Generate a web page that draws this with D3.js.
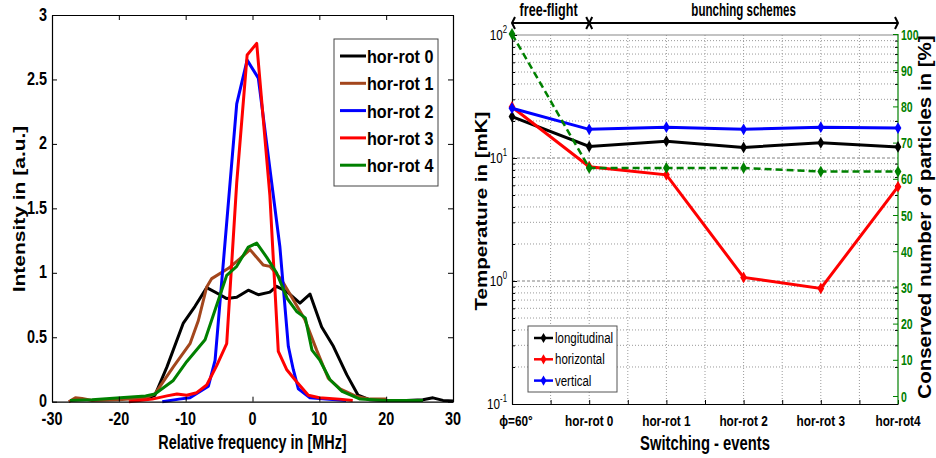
<!DOCTYPE html>
<html>
<head>
<meta charset="utf-8">
<script src="https://cdn.jsdelivr.net/npm/d3@7/dist/d3.min.js"></script>
<style>
  body { margin: 0; background: #fff; }
  svg { display: block; }
  text { font-family: 'Liberation Sans', Arial, sans-serif; }
</style>
</head>
<body>
<svg id="fig" width="936" height="458"></svg>
<script>
// ---------- Spectra (left panel): relative frequency [MHz] vs intensity [a.u.] ----------
const spectrumNames  = ["hor-rot 0", "hor-rot 1", "hor-rot 2", "hor-rot 3", "hor-rot 4"];
const spectrumColors = ["#000000", "#a3461c", "#0000ff", "#ff0000", "#008000"];

const freqRot0 = [-18, -16, -14.6, -12.8, -10.35, -8.6, -6.85, -4.86, -3.86, -2.36, -0.63, 0.87, 2.6, 3.6, 5.1, 7.1, 8.6, 10.35, 12.1, 14.1, 15.8, 17.5, 20, 23, 25.5, 27, 28.5, 30];
const intRot0  = [0.01, 0.02, 0.05, 0.27, 0.61, 0.74, 0.885, 0.83, 0.80, 0.81, 0.865, 0.83, 0.85, 0.895, 0.855, 0.765, 0.835, 0.58, 0.43, 0.21, 0.05, 0.015, 0.01, 0.01, 0.015, 0.03, 0.01, 0.005];

const freqRot1 = [-27.5, -26.5, -25.5, -24, -20, -16, -14.6, -11.85, -9.35, -8.1, -6.85, -6.1, -3.6, -1.87, -0.37, 1.6, 2.6, 4.36, 6.1, 7.85, 9.6, 11.35, 13.1, 15.6, 17.5, 20];
const intRot1  = [0.0, 0.03, 0.025, 0.01, 0.015, 0.03, 0.06, 0.27, 0.45, 0.63, 0.89, 0.955, 1.035, 1.11, 1.18, 1.06, 1.05, 0.945, 0.79, 0.635, 0.40, 0.18, 0.10, 0.04, 0.02, 0.02];

const freqRot2 = [-13.5, -11, -9.35, -6.6, -5.6, -2.36, -0.8, 0.87, 4.1, 5.36, 6.1, 6.86, 8.6, 11, 14];
const intRot2  = [0.0, 0.02, 0.03, 0.12, 0.32, 2.31, 2.65, 2.51, 1.20, 0.43, 0.25, 0.10, 0.03, 0.02, 0.01];

const freqRot3 = [-18.5, -15, -12.8, -11.3, -9.85, -8.35, -6.85, -5.36, -3.86, -2.36, -0.8, 0.63, 2.6, 3.86, 5.1, 6.6, 8.35, 10, 13, 15];
const intRot3  = [0.0, 0.02, 0.045, 0.06, 0.05, 0.07, 0.13, 0.28, 0.45, 1.7, 2.69, 2.78, 1.6, 0.39, 0.25, 0.155, 0.05, 0.03, 0.02, 0.01];

const freqRot4 = [-27.3, -24, -19.8, -16, -14.6, -11.85, -9.85, -7.1, -4.9, -3.86, -2.36, -0.63, 0.63, 2.13, 3.6, 5.2, 6.6, 7.9, 8.9, 10.1, 11.6, 13.4, 16.1, 20, 25.5];
const intRot4  = [0.01, 0.015, 0.03, 0.045, 0.06, 0.165, 0.31, 0.48, 0.82, 0.98, 1.05, 1.20, 1.23, 1.12, 1.0, 0.8, 0.7, 0.65, 0.40, 0.32, 0.17, 0.08, 0.02, 0.01, 0.01];

const freqTicks = [-30, -20, -10, 0, 10, 20, 30];
const intensityTicks = [0, 0.5, 1, 1.5, 2, 2.5, 3];

// ---------- Temperatures (right panel) ----------
const events = ["\u03D5=60\u00B0", "hor-rot 0", "hor-rot 1", "hor-rot 2", "hor-rot 3", "hor-rot4"];
const tempLongitudinal = [21.7, 12.4, 13.7, 12.2, 13.3, 12.3];
const tempHorizontal   = [26, 8.5, 7.3, 1.07, 0.87, 5.85];
const tempVertical     = [25.4, 17.1, 17.8, 17.1, 17.8, 17.5];
const conservedPct     = [100, 63, 63, 63, 62, 62];
const tempNames  = ["longitudinal", "horizontal", "vertical"];
const tempColors = ["#000000", "#ff0000", "#0000ff"];
const pctColor = "#008000";
const tempDecades = [0.1, 1, 10, 100];
const pctTicks = [0, 10, 20, 30, 40, 50, 60, 70, 80, 90, 100];
const phaseLabels = ["free-flight", "bunching schemes"];

const svg = d3.select("#fig");

// Condensed text: Liberation Sans squeezed horizontally around its anchor point.
function ntext(parent, x, y, str, o) {
  o = Object.assign({ size: 16, weight: "bold", anchor: "start", sx: 0.8, sy: 1, rot: 0, fill: "#000" }, o || {});
  const g = parent.append("g")
    .attr("transform", `translate(${x},${y})` + (o.rot ? ` rotate(${o.rot})` : "") + ` scale(${o.sx},${o.sy})`);
  return g.append("text").attr("text-anchor", o.anchor).attr("font-size", o.size)
    .attr("font-weight", o.weight).attr("fill", o.fill).text(str);
}

// ======================= Left panel =======================
const L = { x0: 52, x1: 453, y0: 401.7, y1: 15 };
const xL = d3.scaleLinear().domain([-30, 30]).range([L.x0, L.x1]);
const yL = d3.scaleLinear().domain([0, 3]).range([L.y0, L.y1]);

const left = svg.append("g");
const spectra = [
  [freqRot0, intRot0], [freqRot1, intRot1], [freqRot2, intRot2],
  [freqRot3, intRot3], [freqRot4, intRot4]
];
const lineL = d3.line().x(d => xL(d[0])).y(d => yL(d[1]));
spectra.forEach(([fx, iy], k) => {
  left.append("path")
    .datum(fx.map((f, i) => [f, iy[i]]))
    .attr("d", lineL)
    .attr("fill", "none")
    .attr("stroke", spectrumColors[k])
    .attr("stroke-width", 3)
    .attr("stroke-linejoin", "round");
});

function inkAxis(g, color) {
  g.selectAll("line").attr("stroke", color || "#000");
  g.select(".domain").attr("stroke", color || "#000").attr("stroke-width", 1.2);
}

left.append("g").attr("transform", `translate(0,${L.y0})`)
  .call(d3.axisBottom(xL).tickValues(freqTicks).tickSize(-5).tickSizeOuter(0).tickFormat(""))
  .call(g => inkAxis(g));
left.append("g").attr("transform", `translate(0,${L.y1})`)
  .call(d3.axisTop(xL).tickValues(freqTicks).tickSize(-5).tickSizeOuter(0).tickFormat(""))
  .call(g => inkAxis(g));
left.append("g").attr("transform", `translate(${L.x0},0)`)
  .call(d3.axisLeft(yL).tickValues(intensityTicks).tickSize(-5).tickSizeOuter(0).tickFormat(""))
  .call(g => inkAxis(g));
left.append("g").attr("transform", `translate(${L.x1},0)`)
  .call(d3.axisRight(yL).tickValues(intensityTicks).tickSize(-5).tickSizeOuter(0).tickFormat(""))
  .call(g => inkAxis(g));

freqTicks.forEach(v => ntext(left, xL(v), 425, String(v), { size: 18, anchor: "middle", sx: 0.8 }));
intensityTicks.forEach(v => ntext(left, 47, yL(v) + 5.5, String(v), { size: 18, anchor: "end", sx: 0.8 }));

ntext(left, (L.x0 + L.x1) / 2, 449, "Relative frequency in [MHz]", { size: 19.5, anchor: "middle", sx: 0.74 });
ntext(left, 25, 209, "Intensity in [a.u.]", { size: 21, anchor: "middle", rot: -90, sx: 1, sy: 0.8 });

// legend
const legL = left.append("g");
legL.append("rect").attr("x", 334).attr("y", 39).attr("width", 104).attr("height", 147)
  .attr("fill", "#fff").attr("stroke", "#444").attr("stroke-width", 1);
spectrumNames.forEach((name, k) => {
  const y = 56 + k * 27.3;
  legL.append("line").attr("x1", 340).attr("x2", 366).attr("y1", y).attr("y2", y)
    .attr("stroke", spectrumColors[k]).attr("stroke-width", 3);
  ntext(legL, 367, y + 7, name, { size: 19, sx: 0.85 });
});

// ======================= Right panel =======================
const R = { x0: 512, x1: 898, y0: 404, y1: 35 };
const xR = d3.scaleLinear().domain([0, events.length - 1]).range([R.x0, R.x1]);
const yT = d3.scaleLog().domain([0.1, 100]).range([R.y0, R.y1]);
const yP = d3.scaleLinear().domain([0, 100]).range([396, 34]);

const right = svg.append("g");

// grid
const minorVals = [];
[0.1, 1, 10].forEach(d => { for (let m = 2; m <= 9; m++) minorVals.push(d * m); });
right.selectAll(".hgrid").data(minorVals).enter().append("line")
  .attr("x1", R.x0).attr("x2", R.x1).attr("y1", d => yT(d)).attr("y2", d => yT(d))
  .attr("stroke", "#9a9a9a").attr("stroke-width", 1).attr("stroke-dasharray", "1,2");
right.selectAll(".hmajor").data([1, 10]).enter().append("line")
  .attr("x1", R.x0).attr("x2", R.x1).attr("y1", d => yT(d)).attr("y2", d => yT(d))
  .attr("stroke", "#808080").attr("stroke-width", 1).attr("stroke-dasharray", "3,2");
const halfSteps = d3.range(0.5, events.length - 1, 0.5);
right.selectAll(".vgrid").data(halfSteps).enter().append("line")
  .attr("x1", d => xR(d)).attr("x2", d => xR(d)).attr("y1", R.y1).attr("y2", R.y0)
  .attr("stroke", "#9a9a9a").attr("stroke-width", 1).attr("stroke-dasharray", "1,2");

// top edge
right.append("line").attr("x1", R.x0).attr("x2", R.x1).attr("y1", R.y1).attr("y2", R.y1)
  .attr("stroke", "#888").attr("stroke-width", 1.2);

// log axis (left)
right.append("g").attr("transform", `translate(${R.x0},0)`)
  .call(d3.axisLeft(yT).tickValues(tempDecades).tickSize(-5).tickSizeOuter(0).tickFormat(""))
  .call(g => inkAxis(g));
right.append("g").attr("transform", `translate(${R.x0},0)`)
  .call(d3.axisLeft(yT).tickValues(minorVals).tickSize(-3).tickSizeOuter(0).tickFormat(""))
  .call(g => g.select(".domain").remove());
right.append("g").attr("transform", `translate(${R.x1},0)`)
  .call(d3.axisRight(yT).tickValues(minorVals).tickSize(-3).tickSizeOuter(0).tickFormat(""))
  .call(g => g.select(".domain").remove());
tempDecades.forEach(d => {
  const g = right.append("g").attr("transform", `translate(507,${yT(d) + 5}) scale(0.78,1)`);
  const t = g.append("text").attr("text-anchor", "end").attr("font-size", 15);
  t.append("tspan").text("10");
  t.append("tspan").attr("dy", -7).attr("font-size", 10).text(String(Math.round(Math.log10(d))));
});

// bottom axis
right.append("g").attr("transform", `translate(0,${R.y0})`)
  .call(d3.axisBottom(xR).tickValues(d3.range(0, events.length - 0.5, 0.5)).tickSize(-4).tickSizeOuter(0).tickFormat(""))
  .call(g => inkAxis(g));
events.forEach((d, i) => ntext(right, xR(i) + (i === 0 ? 4 : 0), 426, d, { size: 15.5, anchor: "middle", sx: 0.76 }));

// percentage axis (right, green)
right.append("g").attr("transform", `translate(${R.x1},0)`)
  .call(d3.axisRight(yP).tickValues(pctTicks).tickSize(-5).tickSizeOuter(0).tickFormat(""))
  .call(g => inkAxis(g, pctColor))
  .call(g => g.select(".domain").attr("d", `M0,${R.y1 - 1}V${R.y0}`));
pctTicks.forEach(v => ntext(right, 901, yP(v) + 5.5, String(v), { size: 15, sx: 0.7, fill: pctColor }));

// temperature series
const lineR = d3.line().x((d, i) => xR(i)).y(d => yT(d));
[tempLongitudinal, tempHorizontal, tempVertical].forEach((vals, k) => {
  right.append("path").datum(vals).attr("d", lineR).attr("fill", "none")
    .attr("stroke", tempColors[k]).attr("stroke-width", 3);
  right.selectAll(null).data(vals).enter().append("path")
    .attr("transform", (d, i) => `translate(${xR(i)},${yT(d)})`)
    .attr("d", d3.symbol(d3.symbolDiamond, 40)).attr("fill", tempColors[k]);
});

// conserved particles (dashed)
right.append("path").datum(conservedPct)
  .attr("d", d3.line().x((d, i) => xR(i)).y(d => yP(d)))
  .attr("fill", "none").attr("stroke", pctColor).attr("stroke-width", 2.5).attr("stroke-dasharray", "7,4");
right.selectAll(null).data(conservedPct).enter().append("path")
  .attr("transform", (d, i) => `translate(${xR(i)},${yP(d)})`)
  .attr("d", d3.symbol(d3.symbolDiamond, 40)).attr("fill", pctColor);

// axis titles
ntext(right, 487, 211, "Temperature in [mK]", { size: 20.5, anchor: "middle", rot: -90, sx: 1, sy: 0.8 });
ntext(right, 931, 217, "Conserved number of particles in [%]", { size: 20.5, anchor: "middle", rot: -90, sx: 1, sy: 0.9 });
ntext(right, 705, 450, "Switching - events", { size: 20, anchor: "middle", sx: 0.74 });

// phase annotation above the panel
const yArrow = 23;
const split = xR(1);
const ann = right.append("g").attr("stroke", "#000").attr("stroke-width", 2).attr("fill", "none");
ann.append("line").attr("x1", R.x0).attr("x2", R.x1).attr("y1", yArrow).attr("y2", yArrow);
ann.append("polyline").attr("points", `${R.x0 + 3},${yArrow - 6} ${R.x0},${yArrow} ${R.x0 + 3},${yArrow + 6}`);
ann.append("polyline").attr("points", `${R.x1 - 3},${yArrow - 6} ${R.x1},${yArrow} ${R.x1 - 3},${yArrow + 6}`);
ann.append("polyline").attr("points", `${split - 3},${yArrow - 6} ${split},${yArrow} ${split - 3},${yArrow + 6}`);
ann.append("polyline").attr("points", `${split + 3},${yArrow - 6} ${split},${yArrow} ${split + 3},${yArrow + 6}`);
ntext(right, (R.x0 + split) / 2 - 2, 16, phaseLabels[0], { size: 17.5, anchor: "middle", sx: 0.72 });
ntext(right, (split + R.x1) / 2, 16, phaseLabels[1], { size: 17.5, anchor: "middle", sx: 0.66 });

// legend
const legR = right.append("g");
legR.append("rect").attr("x", 528).attr("y", 326).attr("width", 89).attr("height", 66)
  .attr("fill", "#fff").attr("stroke", "#555").attr("stroke-width", 1);
tempNames.forEach((name, k) => {
  const y = 338 + k * 21.3;
  legR.append("line").attr("x1", 534).attr("x2", 553).attr("y1", y).attr("y2", y)
    .attr("stroke", tempColors[k]).attr("stroke-width", 2.5);
  legR.append("path").attr("transform", `translate(543.5,${y})`)
    .attr("d", d3.symbol(d3.symbolDiamond, 30)).attr("fill", tempColors[k]);
  ntext(legR, 555, y + 5, name, { size: 14, weight: "normal", sx: 0.82 });
});
</script>
</body>
</html>
